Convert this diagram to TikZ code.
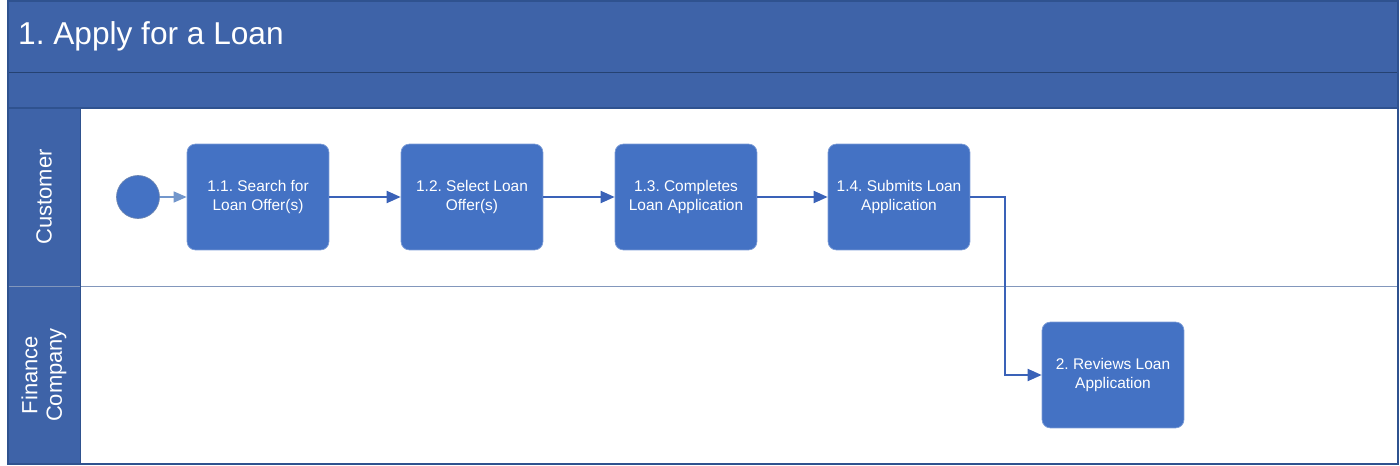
\documentclass[tikz,border=0pt]{standalone}
\usepackage{fontspec}
\setmainfont{Liberation Sans}
\usepackage{xcolor}
\usepackage{tikz}
\usetikzlibrary{shapes,arrows.meta,positioning}
\definecolor{bandblue}{HTML}{3E63A8}
\definecolor{boxblue}{HTML}{4472C4}
\definecolor{edgeblue}{HTML}{2F528F}
\definecolor{flowblue}{HTML}{3A62B8}
\definecolor{startblue}{HTML}{7397CC}
\frenchspacing

\begin{document}
\begin{tikzpicture}[x=0.02cm,y=-0.02cm,
            task/.style = {rectangle, rounded corners=0.17cm,
                fill=boxblue, draw=boxblue!70!white, line width=0.4pt,
                minimum width=2.84cm, minimum height=2.12cm,
                text=white, align=center, font=\fontsize{8.8}{10.5}\selectfont},
            lane/.style = {rotate=90, text=white, align=center,
                font=\fontsize{12.5}{14}\selectfont},
            flow/.style = {draw=flowblue, line width=1.1pt,
                -{Triangle[length=0.28cm,width=0.24cm]}}]

        \useasboundingbox (0,0) rectangle (1400,466);

        % Title bands
        \fill[bandblue] (8,1) rectangle (1398,108);
        \draw[edgeblue!80!black, line width=0.5pt] (8,72) -- (1398,72);
        \node[anchor=west, text=white, font=\fontsize{18}{20}\selectfont]
            (title) at (12,36) {1. Apply for a Loan};

        % Lane headers
        \fill[bandblue] (8,108) rectangle (80,464);
        \draw[edgeblue!60!white, line width=0.5pt] (8,286) -- (1398,286);
        \node[lane] (customer) at (44,197) {Customer};
        \node[lane] (finance) at (44,375) {Finance\\Company};

        % Outer frame
        \draw[edgeblue, line width=0.8pt] (8,1) rectangle (1398,464);
        \draw[edgeblue, line width=0.8pt] (8,108) -- (1398,108);
        \draw[edgeblue, line width=0.5pt] (80,108) -- (80,464);

        % Start event
        \node[circle, fill=boxblue, draw=edgeblue!70!white, line width=0.4pt,
            minimum size=0.86cm] (start) at (138,197) {};

        % Tasks
        \node[task] (search) at (258,197) {1.1. Search for\\Loan Offer(s)};
        \node[task] (select) at (472,197) {1.2. Select Loan\\Offer(s)};
        \node[task] (complete) at (686,197) {1.3. Completes\\Loan Application};
        \node[task] (submit) at (899,197) {1.4. Submits Loan\\Application};
        \node[task] (review) at (1113,375) {2. Reviews Loan\\Application};

        % Flows
        \draw[draw=startblue, line width=0.8pt,
            -{Triangle[length=0.26cm,width=0.22cm]}] (start) -- (search);
        \draw[flow] (search) -- (select);
        \draw[flow] (select) -- (complete);
        \draw[flow] (complete) -- (submit);
        \draw[flow] (submit.east) -| (1005,375) -- (review.west);

\end{tikzpicture}
\end{document}
